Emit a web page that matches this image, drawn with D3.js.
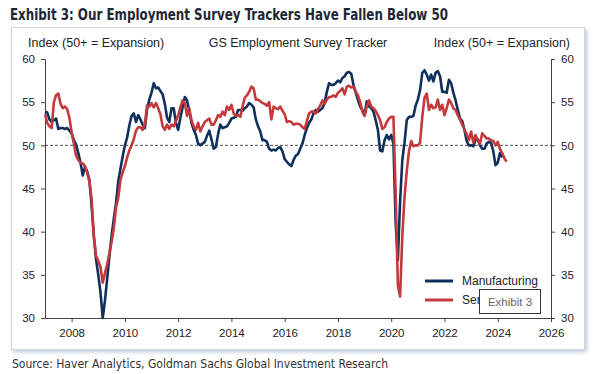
<!DOCTYPE html>
<html>
<head>
<meta charset="utf-8">
<script src="https://cdn.jsdelivr.net/npm/d3@7"></script>
<style>
body { margin: 0; background: #fff; }
svg text { font-family: "Liberation Sans", Arial, sans-serif; fill: #222; }
.narrow { font-family: "Liberation Sans Narrow", "DejaVu Sans Condensed", sans-serif; }
</style>
</head>
<body>
<svg id="chart" width="599" height="374"></svg>
<script>
// monthly values, first point Jan 2007
const startYear = 2007;
const seriesNames = ["Manufacturing", "Services"];
const seriesColors = ["#10305c", "#c4393b"];

const manufacturing = [
    53.9, 53.8, 53.0, 52.7, 52.9, 53.1, 51.9, 52.0, 52.0, 51.9, 52.0, 51.7,
    51.4, 50.6, 50.1, 49.1, 48.0, 46.5, 47.5, 47.0, 46.0, 43.0, 39.5, 36.8,
    35.0, 33.0, 30.0, 32.0, 34.5, 37.1, 39.5, 41.5, 43.3, 45.8, 47.3, 48.7,
    50.0, 50.9, 52.3, 53.4, 53.7, 52.7, 53.5, 53.0, 52.4, 52.0, 54.2, 55.3,
    56.1, 57.2, 56.6, 56.7, 56.3, 55.9, 54.8, 53.2, 52.7, 54.3, 54.3, 52.6,
    51.8, 53.2, 54.4, 55.6, 55.2, 54.0, 52.6, 51.8, 51.2, 50.2, 50.0, 50.2,
    50.4, 51.1, 51.7, 50.7, 49.6, 49.8, 51.3, 52.4, 52.0, 52.1, 52.2, 52.6,
    53.1, 53.2, 53.3, 54.1, 54.1, 54.0, 54.3, 54.5, 54.9, 54.7, 54.4, 53.0,
    52.2, 51.6, 50.6, 50.6, 50.4, 49.6, 49.4, 49.5, 49.4, 49.7, 49.8, 49.3,
    48.4, 48.1, 47.8, 47.6, 48.3, 48.8, 49.0, 49.6, 50.2, 51.2, 52.0, 52.6,
    53.0, 53.7, 54.1, 53.9, 54.1, 54.3, 54.9, 56.2, 57.2, 57.0, 57.0, 57.2,
    57.5, 57.3, 57.8, 58.0, 58.4, 58.5, 58.3, 57.0, 56.1, 55.3, 54.5, 54.1,
    53.5, 55.1, 54.5, 54.3, 53.9, 52.9, 51.8, 49.4, 49.3, 50.6, 51.2, 50.7,
    51.2, 50.2, 41.0, 36.7, 43.5, 48.3, 50.3, 52.9, 53.3, 53.3, 53.4, 54.6,
    55.3, 56.4, 58.4, 58.7, 58.2, 57.5, 58.2, 57.4, 58.4, 58.6, 58.0, 56.2,
    56.2, 56.1, 57.6, 57.2, 56.1, 55.2, 54.1, 53.1, 52.8, 51.8, 50.5, 50.0,
    50.0, 49.9, 50.6, 50.7, 50.0, 49.6, 49.6, 50.2, 50.4, 50.3, 49.3, 47.7,
    48.0, 49.1, 48.6
];

const services = [
    53.6, 52.6, 52.2, 52.0, 55.0, 55.8, 56.0, 54.8, 54.3, 54.5, 54.2, 53.2,
    51.5, 50.2, 48.8, 48.3, 48.0, 47.9, 47.6, 46.8, 45.8, 43.8, 39.5, 37.2,
    36.6, 35.9, 34.1, 35.2, 36.2, 37.5, 38.8, 40.4, 42.8, 43.9, 46.0, 46.9,
    47.6, 48.6, 49.4, 50.0, 50.7, 51.7, 52.1, 52.1, 51.8, 52.5, 54.6, 54.5,
    54.9, 54.4, 54.9, 54.3, 53.6, 52.2, 51.8, 52.4, 51.9, 52.4, 52.2, 52.8,
    53.5, 54.4, 55.2, 54.9, 53.4, 54.3, 52.9, 52.2, 51.8, 52.6, 51.6, 52.2,
    52.7, 52.9, 53.1, 52.4, 52.4, 52.9, 53.5, 53.3, 53.9, 53.5, 54.5, 54.1,
    54.7, 53.7, 53.4, 53.5, 53.3, 54.5, 55.5, 55.8, 56.2, 56.8, 56.6, 55.3,
    55.3, 55.1, 54.9, 54.8, 54.6, 55.0, 53.0, 54.5, 54.3, 54.2, 54.5, 54.0,
    53.6, 52.7, 52.8, 52.7, 52.4, 52.5, 52.5, 52.4, 52.1, 51.9, 52.8, 53.7,
    53.9, 53.9, 53.7, 54.2, 54.6, 55.2, 54.8, 55.3, 55.6, 55.6, 55.8, 55.6,
    56.1, 56.3, 56.6, 55.9, 56.8, 56.9, 56.7, 56.8, 56.2, 55.8, 55.0, 53.9,
    53.4, 54.5, 55.2, 54.5, 54.3, 54.0, 53.5, 52.9, 51.9, 52.1, 52.7, 53.1,
    53.3, 53.3, 44.5, 33.8, 32.5, 39.5, 44.0, 47.0, 49.3, 50.5, 49.9, 50.0,
    50.0, 50.3, 53.3, 55.5, 56.0, 54.1, 54.7, 54.3, 54.4, 55.3, 54.1, 54.7,
    53.5, 54.3, 55.3, 54.9, 54.3, 54.1, 53.5, 53.0, 52.4, 51.8, 51.3, 50.6,
    51.6, 50.3, 51.2, 50.6, 50.2, 51.4, 51.1, 50.8, 50.8, 50.6, 50.5, 50.0,
    50.4, 49.6, 49.1, 48.5, 48.1
];

const yTicks = [30, 35, 40, 45, 50, 55, 60];
const xTicks = [2008, 2010, 2012, 2014, 2016, 2018, 2020, 2022, 2024, 2026];

const svg = d3.select("#chart");
const x = d3.scaleLinear().domain([2007, 2026]).range([45, 551]);
const y = d3.scaleLinear().domain([30, 60]).range([318, 59]);

// panel with soft shadow
const defs = svg.append("defs");
defs.append("filter").attr("id", "shadow")
    .attr("x", "-5%").attr("y", "-5%").attr("width", "110%").attr("height", "110%")
    .append("feDropShadow")
    .attr("dx", 2).attr("dy", 2).attr("stdDeviation", 2)
    .attr("flood-color", "#8ea6bf").attr("flood-opacity", 0.6);

svg.append("rect")
    .attr("x", 11.5).attr("y", 27.5).attr("width", 573).attr("height", 322)
    .attr("fill", "#fff").attr("stroke", "#cfd8e2")
    .attr("filter", "url(#shadow)");

svg.append("text").attr("class", "narrow")
    .attr("x", 10).attr("y", 20)
    .attr("font-size", 16.5).attr("font-weight", "bold")
    .attr("textLength", 438).attr("lengthAdjust", "spacingAndGlyphs")
    .style("fill", "#1e2834")
    .text("Exhibit 3: Our Employment Survey Trackers Have Fallen Below 50");

svg.append("text").attr("class", "narrow")
    .attr("x", 12).attr("y", 368)
    .attr("font-size", 13)
    .attr("textLength", 376).attr("lengthAdjust", "spacingAndGlyphs")
    .style("fill", "#333")
    .text("Source: Haver Analytics, Goldman Sachs Global Investment Research");

// header texts
const header = [
    {text: "Index (50+ = Expansion)", x: 28, anchor: "start"},
    {text: "GS Employment Survey Tracker", x: 298, anchor: "middle"},
    {text: "Index (50+ = Expansion)", x: 570, anchor: "end"}
];
svg.selectAll(".hdr").data(header).enter().append("text")
    .attr("x", d => d.x).attr("y", 47)
    .attr("font-size", 12.5)
    .attr("text-anchor", d => d.anchor)
    .text(d => d.text);

// axes
function styleAxis(g) {
    g.attr("font-size", 11.5).attr("color", "#444");
    g.selectAll("text").style("fill", "#222");
}

svg.append("g")
    .attr("transform", "translate(45,0)")
    .call(d3.axisLeft(y).tickValues(yTicks).tickSize(4).tickPadding(6))
    .call(styleAxis);

svg.append("g")
    .attr("transform", "translate(551,0)")
    .call(d3.axisRight(y).tickValues(yTicks).tickSize(4).tickPadding(6))
    .call(styleAxis);

svg.append("g")
    .attr("transform", "translate(0,318)")
    .call(d3.axisBottom(x).tickValues(xTicks).tickFormat(d3.format("d"))
        .tickSize(4).tickSizeOuter(0).tickPadding(7))
    .call(styleAxis);

// 50 reference line
svg.append("line")
    .attr("x1", x(2007)).attr("x2", x(2026))
    .attr("y1", y(50)).attr("y2", y(50))
    .attr("stroke", "#222").attr("stroke-width", 0.8)
    .attr("stroke-dasharray", "3,2");

// series
const line = d3.line()
    .x(d => x(d.t))
    .y(d => y(d.v));

[manufacturing, services].forEach(function (values, k) {
    const points = values.map((v, i) => ({t: startYear + i / 12, v: v}));
    svg.append("path")
        .datum(points)
        .attr("d", line)
        .attr("fill", "none")
        .attr("stroke", seriesColors[k])
        .attr("stroke-width", 2.6)
        .attr("stroke-linejoin", "round");
});

// legend
const legend = svg.selectAll(".lg").data(seriesNames).enter().append("g")
    .attr("transform", (d, i) => `translate(425, ${281 + 19 * i})`);
legend.append("line")
    .attr("x1", 0).attr("x2", 28)
    .attr("stroke", (d, i) => seriesColors[i])
    .attr("stroke-width", 3);
legend.append("text")
    .attr("x", 37).attr("dy", "0.35em")
    .attr("font-size", 12)
    .text(d => d);

// caption badge laid over the legend
svg.append("rect")
    .attr("x", 479.5).attr("y", 289.5).attr("width", 61).attr("height", 24)
    .attr("fill", "#fff").attr("stroke", "#333");
svg.append("text")
    .attr("x", 510).attr("y", 305.5)
    .attr("text-anchor", "middle")
    .attr("font-size", 11.5)
    .style("fill", "#666")
    .text("Exhibit 3");
</script>
</body>
</html>
